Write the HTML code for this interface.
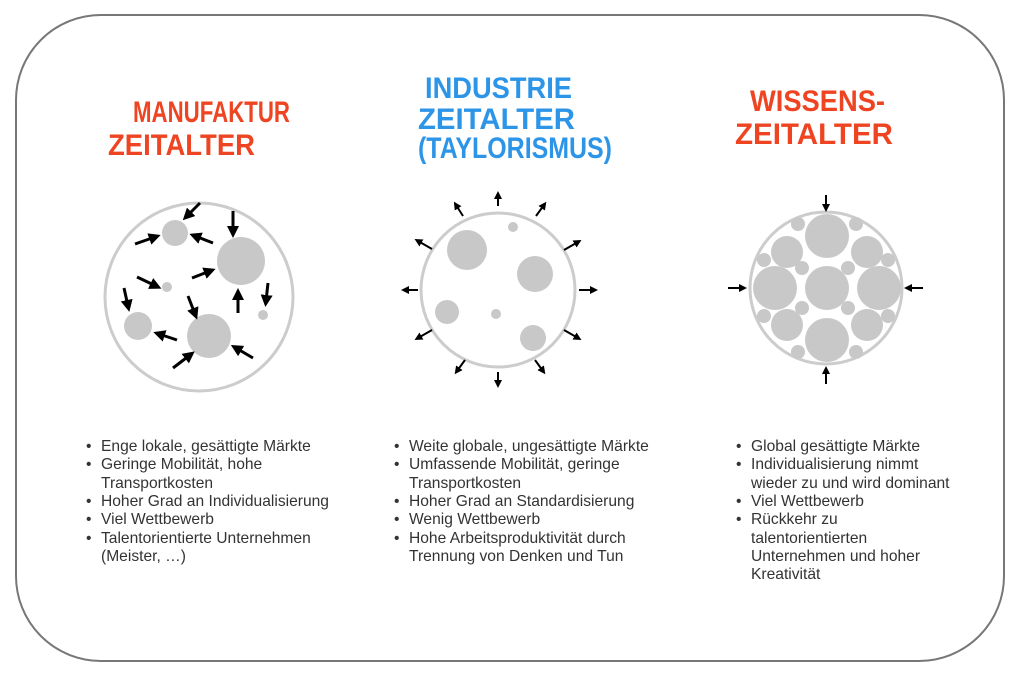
<!DOCTYPE html>
<html><head><meta charset="utf-8"><style>
html,body{margin:0;padding:0;background:#fff;}
svg{display:block;}
.t{font-family:"Liberation Sans",sans-serif;font-size:15.6px;fill:#333;}
.h{font-family:"Liberation Sans",sans-serif;font-weight:bold;}
</style></head><body>
<svg width="1015" height="676" viewBox="0 0 1015 676" xmlns="http://www.w3.org/2000/svg">
<defs>
<marker id="a" markerWidth="4" markerHeight="4" refX="2" refY="2" orient="auto" markerUnits="strokeWidth">
<path d="M0,0 L4,2 L0,4 z" fill="#000"/></marker>
<marker id="b" markerWidth="4" markerHeight="4" refX="2" refY="2" orient="auto" markerUnits="strokeWidth">
<path d="M0,0 L4,2 L0,4 z" fill="#000"/></marker>
</defs>
<rect x="16" y="15" width="988" height="646" rx="85" ry="85" fill="#fff" stroke="#777" stroke-width="2"/>

<g class="h" fill="#ee4422">
<text x="133" y="122" font-size="30" textLength="157" lengthAdjust="spacingAndGlyphs">MANUFAKTUR</text>
<text x="108" y="155" font-size="30" textLength="147" lengthAdjust="spacingAndGlyphs">ZEITALTER</text>
<text x="750" y="111" font-size="30" textLength="135" lengthAdjust="spacingAndGlyphs">WISSENS-</text>
<text x="735" y="144" font-size="30" textLength="158" lengthAdjust="spacingAndGlyphs">ZEITALTER</text>
</g>
<g class="h" fill="#2d95e8">
<text x="425" y="98" font-size="30" textLength="147" lengthAdjust="spacingAndGlyphs">INDUSTRIE</text>
<text x="418" y="129" font-size="30" textLength="157" lengthAdjust="spacingAndGlyphs">ZEITALTER</text>
<text x="418" y="158" font-size="30" textLength="194" lengthAdjust="spacingAndGlyphs">(TAYLORISMUS)</text>
</g>

<circle cx="199" cy="297" r="94" fill="#fff" stroke="#ccc" stroke-width="3"/>
<g fill="#c8c8c8">
<circle cx="175" cy="233" r="13"/><circle cx="241" cy="261" r="24"/><circle cx="167" cy="287" r="5"/>
<circle cx="138" cy="326" r="14"/><circle cx="209" cy="336" r="22"/><circle cx="263" cy="315" r="5"/>
</g>
<g stroke="#000" stroke-width="3" marker-end="url(#a)">
<line x1="200" y1="203" x2="187" y2="216"/>
<line x1="233" y1="211" x2="233" y2="232"/>
<line x1="135" y1="244" x2="155" y2="237"/>
<line x1="213" y1="243" x2="195" y2="236"/>
<line x1="137" y1="277" x2="156" y2="286"/>
<line x1="192" y1="278" x2="210" y2="271"/>
<line x1="124" y1="288" x2="128" y2="306"/>
<line x1="188" y1="296" x2="195" y2="314"/>
<line x1="238" y1="313" x2="238" y2="294"/>
<line x1="268" y1="283" x2="266" y2="301"/>
<line x1="177" y1="340" x2="159" y2="334"/>
<line x1="173" y1="368" x2="190" y2="355"/>
<line x1="253" y1="358" x2="236" y2="348"/>
</g>

<circle cx="498" cy="290" r="77" fill="#fff" stroke="#ccc" stroke-width="3"/>
<g fill="#c8c8c8">
<circle cx="467" cy="250" r="20"/><circle cx="535" cy="274" r="18"/><circle cx="447" cy="312" r="12"/>
<circle cx="533" cy="338" r="13"/><circle cx="513" cy="227" r="5"/><circle cx="496" cy="314" r="5"/>
</g>
<g stroke="#000" stroke-width="2" marker-end="url(#b)">
<line x1="498" y1="206" x2="498" y2="195"/>
<line x1="463" y1="216" x2="456" y2="205"/>
<line x1="536" y1="216" x2="544" y2="205"/>
<line x1="432" y1="249" x2="418" y2="241"/>
<line x1="564" y1="250" x2="578" y2="242"/>
<line x1="418" y1="290" x2="405" y2="290"/>
<line x1="579" y1="290" x2="594" y2="290"/>
<line x1="432" y1="330" x2="418" y2="338"/>
<line x1="564" y1="330" x2="578" y2="338"/>
<line x1="465" y1="360" x2="457" y2="371"/>
<line x1="535" y1="360" x2="543" y2="371"/>
<line x1="498" y1="372" x2="498" y2="384"/>
</g>

<circle cx="826" cy="288" r="76" fill="#fff" stroke="#ccc" stroke-width="3"/>
<g fill="#c8c8c8">
<circle cx="827" cy="288" r="22"/><circle cx="827" cy="236" r="22"/><circle cx="827" cy="340" r="22"/>
<circle cx="775" cy="288" r="22"/><circle cx="879" cy="288" r="22"/>
<circle cx="787" cy="252" r="16"/><circle cx="867" cy="252" r="16"/><circle cx="787" cy="325" r="16"/><circle cx="867" cy="325" r="16"/>
<circle cx="798" cy="224" r="7"/><circle cx="856" cy="224" r="7"/><circle cx="764" cy="260" r="7"/><circle cx="888" cy="260" r="7"/>
<circle cx="764" cy="316" r="7"/><circle cx="888" cy="316" r="7"/><circle cx="802" cy="268" r="7"/><circle cx="848" cy="268" r="7"/>
<circle cx="802" cy="308" r="7"/><circle cx="848" cy="308" r="7"/><circle cx="798" cy="352" r="7"/><circle cx="856" cy="352" r="7"/>
</g>
<g stroke="#000" stroke-width="2" marker-end="url(#b)">
<line x1="826" y1="195" x2="826" y2="208"/>
<line x1="826" y1="384" x2="826" y2="370"/>
<line x1="728" y1="288" x2="743" y2="288"/>
<line x1="923" y1="288" x2="908" y2="288"/>
</g>

<g class="t">
<text x="86" y="451">•</text>
<text x="101" y="451">Enge lokale, gesättigte Märkte</text>
<text x="86" y="469">•</text>
<text x="101" y="469">Geringe Mobilität, hohe</text>
<text x="101" y="488">Transportkosten</text>
<text x="86" y="506">•</text>
<text x="101" y="506">Hoher Grad an Individualisierung</text>
<text x="86" y="524">•</text>
<text x="101" y="524">Viel Wettbewerb</text>
<text x="86" y="543">•</text>
<text x="101" y="543">Talentorientierte Unternehmen</text>
<text x="101" y="561">(Meister, …)</text>

<text x="394" y="451">•</text>
<text x="409" y="451">Weite globale, ungesättigte Märkte</text>
<text x="394" y="469">•</text>
<text x="409" y="469">Umfassende Mobilität, geringe</text>
<text x="409" y="488">Transportkosten</text>
<text x="394" y="506">•</text>
<text x="409" y="506">Hoher Grad an Standardisierung</text>
<text x="394" y="524">•</text>
<text x="409" y="524">Wenig Wettbewerb</text>
<text x="394" y="543">•</text>
<text x="409" y="543">Hohe Arbeitsproduktivität durch</text>
<text x="409" y="561">Trennung von Denken und Tun</text>

<text x="736" y="451">•</text>
<text x="751" y="451">Global gesättigte Märkte</text>
<text x="736" y="469">•</text>
<text x="751" y="469">Individualisierung nimmt</text>
<text x="751" y="488">wieder zu und wird dominant</text>
<text x="736" y="506">•</text>
<text x="751" y="506">Viel Wettbewerb</text>
<text x="736" y="524">•</text>
<text x="751" y="524">Rückkehr zu</text>
<text x="751" y="543">talentorientierten</text>
<text x="751" y="561">Unternehmen und hoher</text>
<text x="751" y="579">Kreativität</text>
</g>
</svg>
</body></html>
